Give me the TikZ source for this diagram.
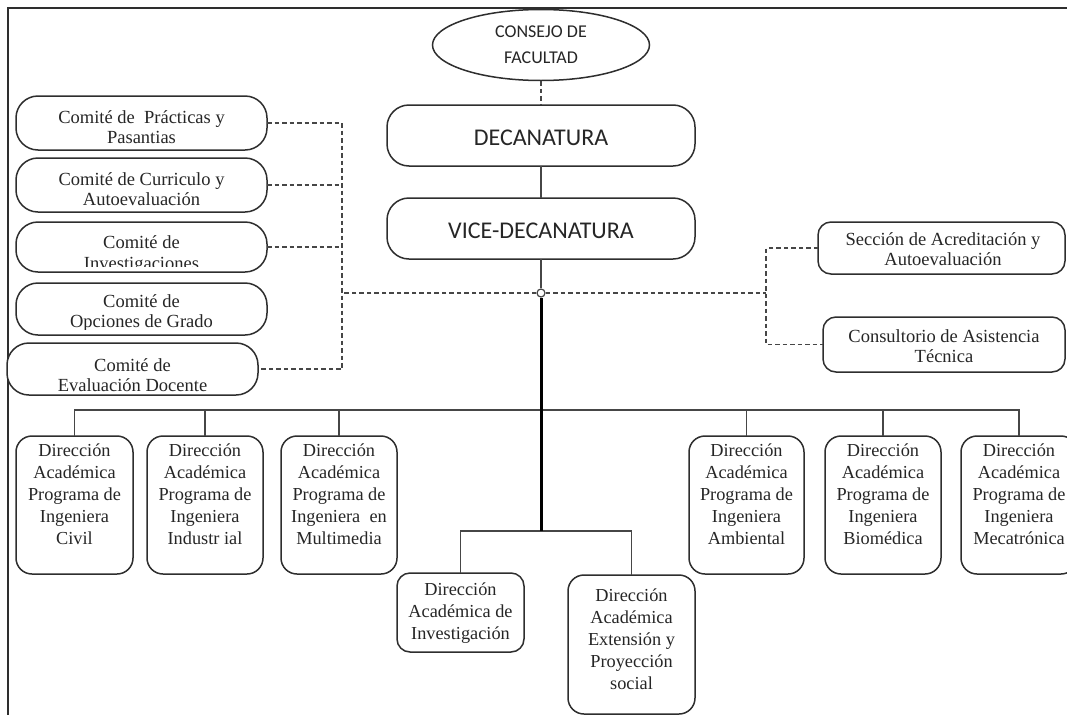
\documentclass[tikz,border=0pt]{standalone}
\usepackage{fontspec}
\setmainfont{Liberation Serif}
\newfontfamily\calib{Carlito}
\usetikzlibrary{shapes.geometric}

\definecolor{boxc}{HTML}{2E2E2E}
\definecolor{linec}{HTML}{464646}
\definecolor{txtc}{HTML}{262626}

% rounded box: name, left, top, right, bottom, corner radius
\newcommand\rbox[6]{%
  \node[box, rounded corners=#6, minimum width={(#4)-(#2)}, minimum height={(#5)-(#3)}]
    (#1) at ({((#2)+(#4))/2},{((#3)+(#5))/2}) {};}

\begin{document}
\begin{tikzpicture}[x=1pt,y=-1pt,
  box/.style={draw=boxc, line width=1.5pt, fill=white, inner sep=0pt, outer sep=0pt},
  txt/.style={align=center, text=txtc, inner sep=0pt},
  sertxt/.style={txt, font=\fontsize{18.3}{22}\selectfont},
  comtxt/.style={txt, font=\fontsize{18.5}{19.5}\selectfont},
  sectxt/.style={txt, font=\fontsize{18.5}{20.5}\selectfont},
  bigtxt/.style={txt, font=\calib\fontsize{24}{28}\selectfont},
  conn/.style={draw=linec, line width=1.2pt},
  dsh/.style={draw=linec, line width=1.2pt, dash pattern=on 4.5pt off 3pt},
  spine/.style={draw=black, line width=3pt}
]
\useasboundingbox (0,0) rectangle (1067,715);

% page frame (top and left edges)
\draw[boxc, line width=1.3pt] (1067,8) -- (8,8) -- (8,715);

% ---------- top of the hierarchy ----------
\node[ellipse, draw=boxc, line width=1.5pt, fill=white, minimum width=217pt, minimum height=71pt,
      inner sep=0pt, align=center, text=txtc, font=\calib\fontsize{18}{26}\selectfont]
  (cons) at (541,45) {CONSEJO DE\\FACULTAD};
\rbox{dec}{387}{105}{695}{166}{22pt}
\node[bigtxt] (tdec) at (541,138) {DECANATURA};
\rbox{vice}{387}{198}{695}{259}{22pt}
\node[bigtxt] (tvice) at (541,230.5) {VICE-DECANATURA};

% ---------- committees (left) ----------
\rbox{c1}{16}{96}{267}{150}{22pt}
\node[comtxt] (tc1) at (141.5,127) {Comité de~ Prácticas y\\Pasantias};
\rbox{c2}{16}{158}{267}{212}{22pt}
\node[comtxt] (tc2) at (141.5,189) {Comité de Curriculo y\\Autoevaluación};
\rbox{c3}{16}{222}{267}{272}{22pt}
\begin{scope}
  \clip (16,222) rectangle (267,266);
  \node[comtxt, font=\fontsize{18.5}{21}\selectfont] (tc3) at (141.5,254.5) {Comité de\\Investigaciones};
\end{scope}
\rbox{c4}{16}{283}{267}{335}{22pt}
\begin{scope}
  \clip (16,283) rectangle (267,329);
  \node[comtxt] (tc4) at (141.5,313) {Comité de\\Opciones de Grado};
\end{scope}
\rbox{c5}{7}{343}{258}{395}{22pt}
\node[comtxt] (tc5) at (132.5,375) {Comité de\\Evaluación Docente};

% ---------- staff units (right) ----------
\rbox{s1}{818}{222}{1065}{274}{13pt}
\node[sectxt] (ts1) at (943,249) {Sección de Acreditación y\\Autoevaluación};
\rbox{s2}{823}{317}{1065}{372}{13pt}
\node[sectxt] (ts2) at (944,346) {Consultorio de Asistencia\\Técnica};

% ---------- academic directions ----------
\rbox{civ}{16}{436}{133}{574}{16pt}
\node[sertxt] (tciv) at (74.5,494) {Dirección\\Académica\\Programa de\\Ingeniera\\Civil};
\rbox{ind}{147}{436}{263}{574}{16pt}
\node[sertxt] (tind) at (205,494) {Dirección\\Académica\\Programa de\\Ingeniera\\Industr ial};
\rbox{mul}{281}{436}{397}{574}{16pt}
\node[sertxt] (tmul) at (339,494) {Dirección\\Académica\\Programa de\\Ingeniera~ en\\Multimedia};
\rbox{amb}{689}{436}{804}{574}{16pt}
\node[sertxt] (tamb) at (746.5,494) {Dirección\\Académica\\Programa de\\Ingeniera\\Ambiental};
\rbox{bio}{825}{436}{941}{574}{16pt}
\node[sertxt] (tbio) at (883,494) {Dirección\\Académica\\Programa de\\Ingeniera\\Biomédica};
\rbox{mec}{961}{436}{1077}{574}{16pt}
\node[sertxt] (tmec) at (1019,494) {Dirección\\Académica\\Programa de\\Ingeniera\\Mecatrónica};

\rbox{inv}{397}{573}{524}{652}{13pt}
\node[sertxt] (tinv) at (460.5,613) {Dirección\\Académica de\\Investigación};
\rbox{ext}{568}{575}{695}{714}{16pt}
\node[sertxt] (text) at (631.5,639) {Dirección\\Académica\\Extensión y\\Proyección\\social};

% ---------- connectors ----------
\coordinate (bz) at (541,410);
\coordinate (lz) at (541,531);
\coordinate (lbus) at (342,293);
\coordinate (rbus) at (766,293);

\draw[dsh] (cons.south) -- (dec.north);
\draw[conn] (dec.south) -- (vice.north);

\node[circle, draw=linec, line width=1.2pt, fill=white, minimum size=8pt, inner sep=0pt] (j) at (541,293) {};
\draw[conn] (vice.south) -- (j.north);

% advisory committees, dashed
\draw[dsh] (c1.east) -| (c5.east -| lbus) -- (c5.east);
\draw[dsh] (c2.east) -- (c2.east -| lbus);
\draw[dsh] (c3.east) -- (c3.east -| lbus);
\draw[dsh] (j.west) -- (lbus);
% staff units, dashed
\draw[dsh] (s1.west) -| (s2.west -| rbus) -- (s2.west);
\draw[dsh] (j.east) -- (rbus);

% line of authority
\draw[conn] (civ.north) |- (bz) -| (mec.north);
\draw[conn] (ind.north) -- (ind.north |- bz);
\draw[conn] (mul.north) -- (mul.north |- bz);
\draw[conn] (amb.north) -- (amb.north |- bz);
\draw[conn] (bio.north) -- (bio.north |- bz);
\draw[conn] (inv.north) |- (lz) -| (ext.north);
\draw[spine] (j.south) -- (lz);
\end{tikzpicture}
\end{document}
